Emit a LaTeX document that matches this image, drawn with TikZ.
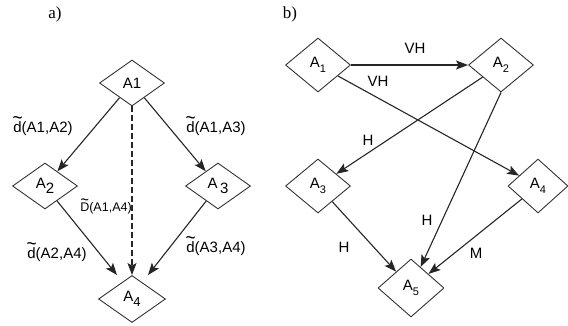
\documentclass[tikz,border=0pt]{standalone}
\usepackage{fontspec}
\setmainfont{Liberation Sans}
\newfontfamily\tagface{Liberation Serif}
\usetikzlibrary{shapes.geometric,arrows.meta,calc}

% letter with a wide tilde set above it
\newcommand\tld[1]{\leavevmode\hbox{\ooalign{#1\cr\hidewidth\raisebox{0.48em}{\scalebox{1.15}[1.35]{\char"7E}}\hidewidth\cr}}}
% lowered index of the same size / a smaller one
\newcommand\lowsub[1]{\raisebox{-0.3em}{#1}}
\newcommand\smallsub[1]{\raisebox{-0.35em}{\fontsize{11}{11}\selectfont #1}}

\begin{document}
\begin{tikzpicture}[x=1pt,y=-1pt,
  font=\fontsize{15}{17}\selectfont,
  box/.style={shape=diamond, draw=black!80, line width=0.9pt, inner sep=0pt, fill=white},
  boxa/.style={box, minimum width=65pt, minimum height=46pt},
  boxb/.style={box, minimum width=65pt, minimum height=54pt},
  link/.style={draw=black!85, line width=1.1pt, -{Stealth[length=12pt,width=9pt,inset=2.5pt]}},
  lbl/.style={inner sep=0pt},
  tag/.style={inner sep=0pt, font=\tagface\fontsize{17}{19}\selectfont}]

\fill[white] (0,0) rectangle (568,325);
\useasboundingbox (0,0) rectangle (568,325);

% ---------- part a ----------
\node[tag] (tagA) at (55,14) {a)};

\node[boxa] (a1) at (132,83) {A1};
\node[boxa] (a2) at (45,186) {A\lowsub{2}};
\node[boxa] (a3) at (218,186) {A\,\lowsub{3}};
\node[boxa, minimum width=67pt, minimum height=47pt] (a4) at (132,299) {A\lowsub{\fontsize{13}{13}\selectfont 4}};

\coordinate (a4l) at ($(a4.north)+(-15,0)$);
\coordinate (a4r) at ($(a4.north)+(16,0)$);

\draw[link] (a1) -- (a2);
\draw[link] (a1) -- (a3);
\draw[link, dash pattern=on 6pt off 3pt] (a1) -- (a4);
\draw[link] (a2) -- (a4l);
\draw[link] (a3) -- (a4r);

\node[lbl, anchor=base] (d12) at (43,132) {\tld{d}(A1,A2)};
\node[lbl, anchor=base] (d13) at (216,132) {\tld{d}(A1,A3)};
\node[lbl, anchor=base, font=\fontsize{12.5}{14}\selectfont] (d14) at (106,211) {\tld{D}(A1,A4)};
\node[lbl, anchor=base] (d24) at (57,258) {\tld{d}(A2,A4)};
\node[lbl, anchor=base] (d34) at (216,252) {\tld{d}(A3,A4)};

% ---------- part b ----------
\node[tag] (tagB) at (290,14) {b)};

\node[boxb] (b1) at (318,65) {A\smallsub{1}};
\node[boxb] (b2) at (501,65) {A\smallsub{2}};
\node[boxb] (b3) at (318,186) {A\smallsub{3}};
\node[boxb, minimum width=60pt] (b4) at (538,186) {A\smallsub{4}};
\node[boxb, minimum width=66pt, minimum height=58pt] (b5) at (411,288) {A\smallsub{5}};

\draw[link] (b1) -- (b2);
\draw[link] (b1) -- (b4);
\draw[link] (b2) -- (b3);
\draw[link] (b2.south) -- (b5);
\draw[link] (b3) -- (b5);
\draw[link] (b4) -- (b5);

\node[lbl] (e12) at (415,48) {VH};
\node[lbl] (e14) at (378,81) {VH};
\node[lbl] (e23) at (368,140) {H};
\node[lbl] (e25) at (427,220) {H};
\node[lbl] (e35) at (344,247) {H};
\node[lbl] (e45) at (476,253) {M};
\end{tikzpicture}
\end{document}
